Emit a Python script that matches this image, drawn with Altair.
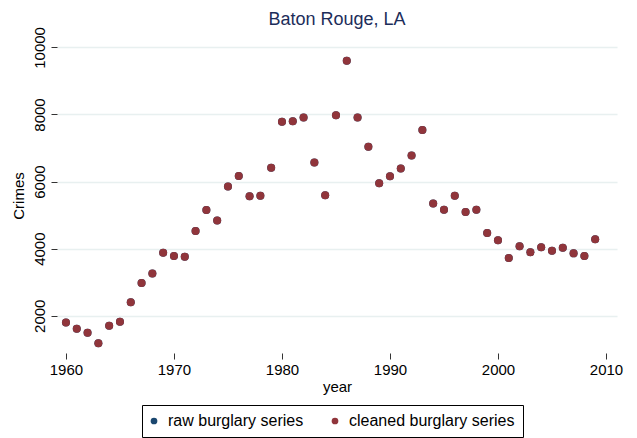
import altair as alt
import pandas as pd

years = list(range(1960, 2010))
burglary = [1800, 1610, 1490, 1180, 1700, 1820, 2400, 2980, 3260, 3880,
            3780, 3760, 4530, 5150, 4840, 5850, 6170, 5560, 5580, 6410,
            7780, 7800, 7910, 6570, 5590, 7980, 9600, 7910, 7040, 5950,
            6160, 6390, 6780, 7540, 5350, 5160, 5580, 5090, 5160, 4470,
            4250, 3720, 4070, 3890, 4040, 3940, 4030, 3860, 3780, 4280]
series_names = ["raw burglary series", "cleaned burglary series"]
series_colors = ["#1a476f", "#90353b"]

rows = []
for s in series_names:
    for y, v in zip(years, burglary):
        rows.append({"year": y, "Crimes": v, "series": s})
df = pd.DataFrame(rows)

FONT = "Liberation Sans"

chart = alt.Chart(df).mark_circle(size=64, opacity=1).encode(
    x=alt.X("year:Q", scale=alt.Scale(domain=[1959.17, 2011.02], nice=False, zero=False),
            axis=alt.Axis(values=[1960, 1970, 1980, 1990, 2000, 2010], grid=False, domain=False,
                          tickColor="#333333", tickSize=6, labelFontSize=15, labelPadding=3,
                          titleFontSize=15, titleFontWeight="normal", titlePadding=2,
                          labelColor="#000000", titleColor="#000000", format="d")),
    y=alt.Y("Crimes:Q", scale=alt.Scale(domain=[890, 10280], nice=False, zero=False),
            axis=alt.Axis(values=[2000, 4000, 6000, 8000, 10000], grid=True, gridColor="#e8f0f0",
                          gridWidth=1.5, domain=False, tickColor="#333333", tickSize=6,
                          labelAngle=270, labelAlign="center", labelBaseline="alphabetic",
                          labelFontSize=15, labelPadding=7, titleFontSize=15,
                          titleFontWeight="normal", titlePadding=6, format="d",
                          labelColor="#000000", titleColor="#000000")),
    color=alt.Color("series:N", sort=series_names,
                    scale=alt.Scale(domain=series_names, range=series_colors),
                    legend=alt.Legend(title=None, orient="none", legendX=85, legendY=367,
                                      direction="horizontal", symbolType="circle", symbolSize=45,
                                      labelFontSize=16, labelColor="#000000", columnPadding=27,
                                      labelOffset=6, symbolOffset=-4, labelLimit=400, gridAlign="none",
                                      labelExpr="datum.index == 1 ? datum.label + '\u00a0\u00a0\u00a0\u00a0' : datum.label",
                                      strokeColor="#000000", fillColor="#ffffff", padding=8,
                                      symbolStrokeWidth=0)),
    order=alt.Order("order:Q"),
).transform_calculate(
    order="datum.series == 'raw burglary series' ? 0 : 1"
).properties(
    width=560, height=315,
    title=alt.TitleParams("Baton Rouge, LA", fontSize=18, fontWeight="normal", color="#1c2d5a",
                          font=FONT, anchor="middle", offset=13, dy=15),
    autosize=alt.AutoSizeParams(type="none"),
    padding={"left": 49, "top": 30, "right": 12, "bottom": 85},
).configure(font=FONT, background="#ffffff").configure_view(stroke=None)

chart.save("out.html", embed_options={"renderer": "svg", "actions": False})
